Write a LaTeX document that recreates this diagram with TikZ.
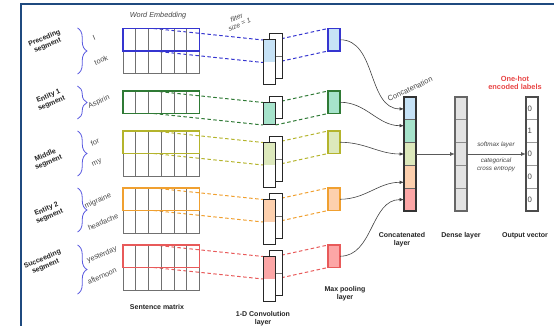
\documentclass[tikz,border=0pt]{standalone}
\usepackage{fontspec}
\setmainfont{Liberation Sans}
\usetikzlibrary{arrows.meta,decorations.pathreplacing,calc}

\definecolor{frameblue}{HTML}{1F4A7F}
\definecolor{cBlue}{HTML}{3535D0}\definecolor{fBlue}{HTML}{C6E2F6}
\definecolor{cGreen}{HTML}{2F7A35}\definecolor{fGreen}{HTML}{A6E3CB}
\definecolor{cOlive}{HTML}{B4B42C}\definecolor{fOlive}{HTML}{DDE9BC}
\definecolor{cOrange}{HTML}{F0A030}\definecolor{fOrange}{HTML}{FDD0AE}
\definecolor{cRed}{HTML}{E85A5A}\definecolor{fRed}{HTML}{FCA6A6}
\definecolor{braceC}{HTML}{5A5AE0}
\definecolor{txtdark}{HTML}{222222}
\definecolor{txtgray}{HTML}{444444}
\definecolor{gridgray}{HTML}{707070}
\definecolor{densegray}{HTML}{E3E3E3}
\definecolor{hotred}{HTML}{E84545}

\pgfdeclarelayer{under}
\pgfsetlayers{under,main}

\newcommand\lblfont{\fontsize{7}{8}\selectfont\bfseries}
\newcommand\wordfont{\fontsize{7.3}{9}\selectfont}
\newcommand\smallit{\fontsize{6.3}{7.3}\selectfont\itshape}

\begin{document}
\begin{tikzpicture}[x=1pt,y=-1pt,
  cell/.style={draw=gridgray, line width=0.8pt, minimum width=76.5pt,
    minimum height=22.5pt, inner sep=0pt, outer sep=0pt, anchor=north west},
  gridline/.style={gridgray, line width=0.6pt},
  convbox/.style={draw=black!85, line width=1pt, fill=white, minimum width=12.5pt,
    inner sep=0pt, outer sep=0pt, anchor=north west},
  poolbox/.style={line width=1.2pt, minimum width=12pt, minimum height=22.5pt,
    inner sep=0pt, outer sep=0pt, anchor=north west},
  vcell/.style={line width=0.6pt, minimum width=12pt, minimum height=22.8pt,
    inner sep=0pt, outer sep=0pt, anchor=north west},
  dashline/.style={line width=1pt, dash pattern=on 3.5pt off 2.5pt},
  segbrace/.style={braceC, line width=0.8pt, decorate,
    decoration={brace, amplitude=9.5pt}},
  seglbl/.style={font=\lblfont, text=txtdark, align=center, rotate=23, inner sep=0pt},
  word/.style={font=\wordfont, text=txtgray, rotate=23, inner sep=0pt},
  caption/.style={font=\lblfont, text=txtdark, align=center, inner sep=0pt},
  curvearr/.style={black!75, line width=0.6pt, -{Latex[length=4.5pt,width=3.5pt]}},
  flatarr/.style={black!65, line width=0.9pt, -{Latex[length=5pt,width=4pt]}},
]
\useasboundingbox (0,0) rectangle (554,326);

% frame
\draw[frameblue, line width=1.6pt] (21,326) -- (21,4) -- (554,4);

% the five segments: matrix rows, convolution filters, pooled values
\foreach \s/\c/\f/\y/\n in {pre/cBlue/fBlue/28.5/2, eone/cGreen/fGreen/91/1,
    mid/cOlive/fOlive/131/2, etwo/cOrange/fOrange/188/2, suc/cRed/fRed/245/2}{
  \foreach \r in {1,...,\n}
    \node[cell] (m-\s-\r) at (123,\y+22.5*\r-22.5) {};
  \foreach \k in {1,...,5}
    \draw[gridline] (123+\k*12.75,\y) -- (123+\k*12.75,\y+22.5*\n);
  \draw[\c, line width=1.5pt] (m-\s-1.north west) rectangle (m-\s-1.south east);
  % convolution filter (back and front sheets)
  \node[convbox, minimum height=\n*22.5pt] (cb-\s) at (269.5,\y+5.5) {};
  \ifnum\n=2 \draw[gridgray, line width=0.6pt] (cb-\s.west) -- (cb-\s.east); \fi
  \node[convbox, minimum height=\n*22.5pt] (cf-\s) at (263,\y+11.5) {};
  \fill[\f] (cf-\s.north west) rectangle ++(12.5,22.5);
  \draw[black!85, line width=1pt] (cf-\s.north west) rectangle (cf-\s.south east);
  % max pooling value
  \node[poolbox, draw=\c, fill=\f] (mp-\s) at (328,\y) {};
  % dashed projections
  \begin{pgfonlayer}{under}
    \draw[dashline, \c] ($(m-\s-1.north west)!0.4!(m-\s-1.north east)$) -- (cf-\s.north west);
    \draw[dashline, \c] ($(m-\s-1.south west)!0.4!(m-\s-1.south east)$) -- ([yshift=-22.5pt]cf-\s.north west);
    \draw[dashline, \c] (cf-\s.north east) -- (mp-\s.north west);
    \draw[dashline, \c] ([yshift=-22.5pt]cf-\s.north east) -- (mp-\s.south west);
  \end{pgfonlayer}
}

% braces
\draw[segbrace] (77.5,28) -- (77.5,74);
\draw[segbrace] (77.5,86) -- (77.5,119);
\draw[segbrace] (77.5,131) -- (77.5,176);
\draw[segbrace] (77.5,188) -- (77.5,232);
\draw[segbrace] (77.5,245) -- (77.5,294);

% segment names
\node[seglbl] (l-pre) at (46,42) {Preceding\\segment};
\node[seglbl] (l-eone) at (50,100) {Entity 1\\segment};
\node[seglbl] (l-mid) at (47,159) {Middle\\segment};
\node[seglbl] (l-etwo) at (48,213) {Entity 2\\segment};
\node[seglbl] (l-suc) at (44,263) {Succeeding\\segment};

% words
\node[word] (w1) at (94,38) {I};
\node[word] (w2) at (101,60) {took};
\node[word] (w3) at (99,102) {Aspirin};
\node[word] (w4) at (95,142) {for};
\node[word] (w5) at (97,163) {my};
\node[word] (w6) at (98,201) {migraine};
\node[word] (w7) at (103,222) {headache};
\node[word] (w8) at (102,255) {yesterday};
\node[word] (w9) at (102,276) {afternoon};

% headings
\node[font=\fontsize{7.3}{8}\selectfont\itshape, text=txtgray] (we) at (158,16) {Word Embedding};
\node[font=\fontsize{6.8}{7.4}\selectfont\itshape, text=txtgray, rotate=24, align=center,
  inner sep=0pt] (fs) at (238,21) {filter\\size = 1};

% concatenated layer
\foreach \f [count=\i] in {fBlue,fGreen,fOlive,fOrange,fRed}
  \node[vcell, draw=black!60, fill=\f] (cc-\i) at (404,97+22.8*\i-22.8) {};
\draw[black!80, line width=1.3pt] (cc-1.north west) rectangle (cc-5.south east);

% dense layer
\foreach \i in {1,...,5}
  \node[vcell, draw=black!45, fill=densegray] (dn-\i) at (455,97+22.8*\i-22.8) {};
\draw[black!60, line width=1.2pt] (dn-1.north west) rectangle (dn-5.south east);

% output vector
\foreach \v [count=\i] in {0,1,0,0,0}{
  \node[vcell, draw=black!40, fill=white] (ov-\i) at (526,97+22.8*\i-22.8) {};
  \node[anchor=west, font=\fontsize{7.8}{9}\selectfont, text=txtgray, inner sep=0pt]
    (ovl-\i) at ([xshift=1.3pt]ov-\i.west) {\v};
}
\draw[black!70, line width=1.2pt] (ov-1.north west) rectangle (ov-5.south east);

% pooled values to concatenation
\draw[curvearr] (mp-pre.east) to[out=0,in=180] ([yshift=-0.5pt]cc-1.west);
\draw[curvearr] (mp-eone.east) to[out=0,in=180] ([yshift=5.5pt]cc-2.west);
\draw[curvearr] (mp-mid.east) to[out=0,in=180] (cc-3.west);
\draw[curvearr] (mp-etwo.east) to[out=0,in=180] ([yshift=-5.5pt]cc-4.west);
\draw[curvearr] (mp-suc.east) to[out=0,in=180] ([yshift=0pt]cc-5.west);

\draw[flatarr] (cc-3.east) -- (dn-3.west);
\draw[flatarr] (dn-3.east) -- (ov-3.west);

\node[font=\fontsize{7.5}{8}\selectfont, text=txtgray, rotate=25] (cat) at (410,89) {Concatenation};
\node[font=\smallit, text=txtgray] (sm) at (496,145) {softmax layer};
\node[font=\smallit, text=txtgray, align=center] (ce) at (496,165) {categorical\\cross entropy};
\node[font=\fontsize{7.4}{8.2}\selectfont\bfseries, text=hotred, align=center] (oh) at (515,83)
  {One-hot\\encoded labels};

% captions
\node[caption] (c1) at (157,307) {Sentence matrix};
\node[caption] (c2) at (263,319) {1-D Convolution\\layer};
\node[caption] (c3) at (345,294) {Max pooling\\layer};
\node[caption] (c4) at (402,240) {Concatenated\\layer};
\node[caption] (c5) at (461,236) {Dense layer};
\node[caption] (c6) at (525,236) {Output vector};
\end{tikzpicture}
\end{document}
